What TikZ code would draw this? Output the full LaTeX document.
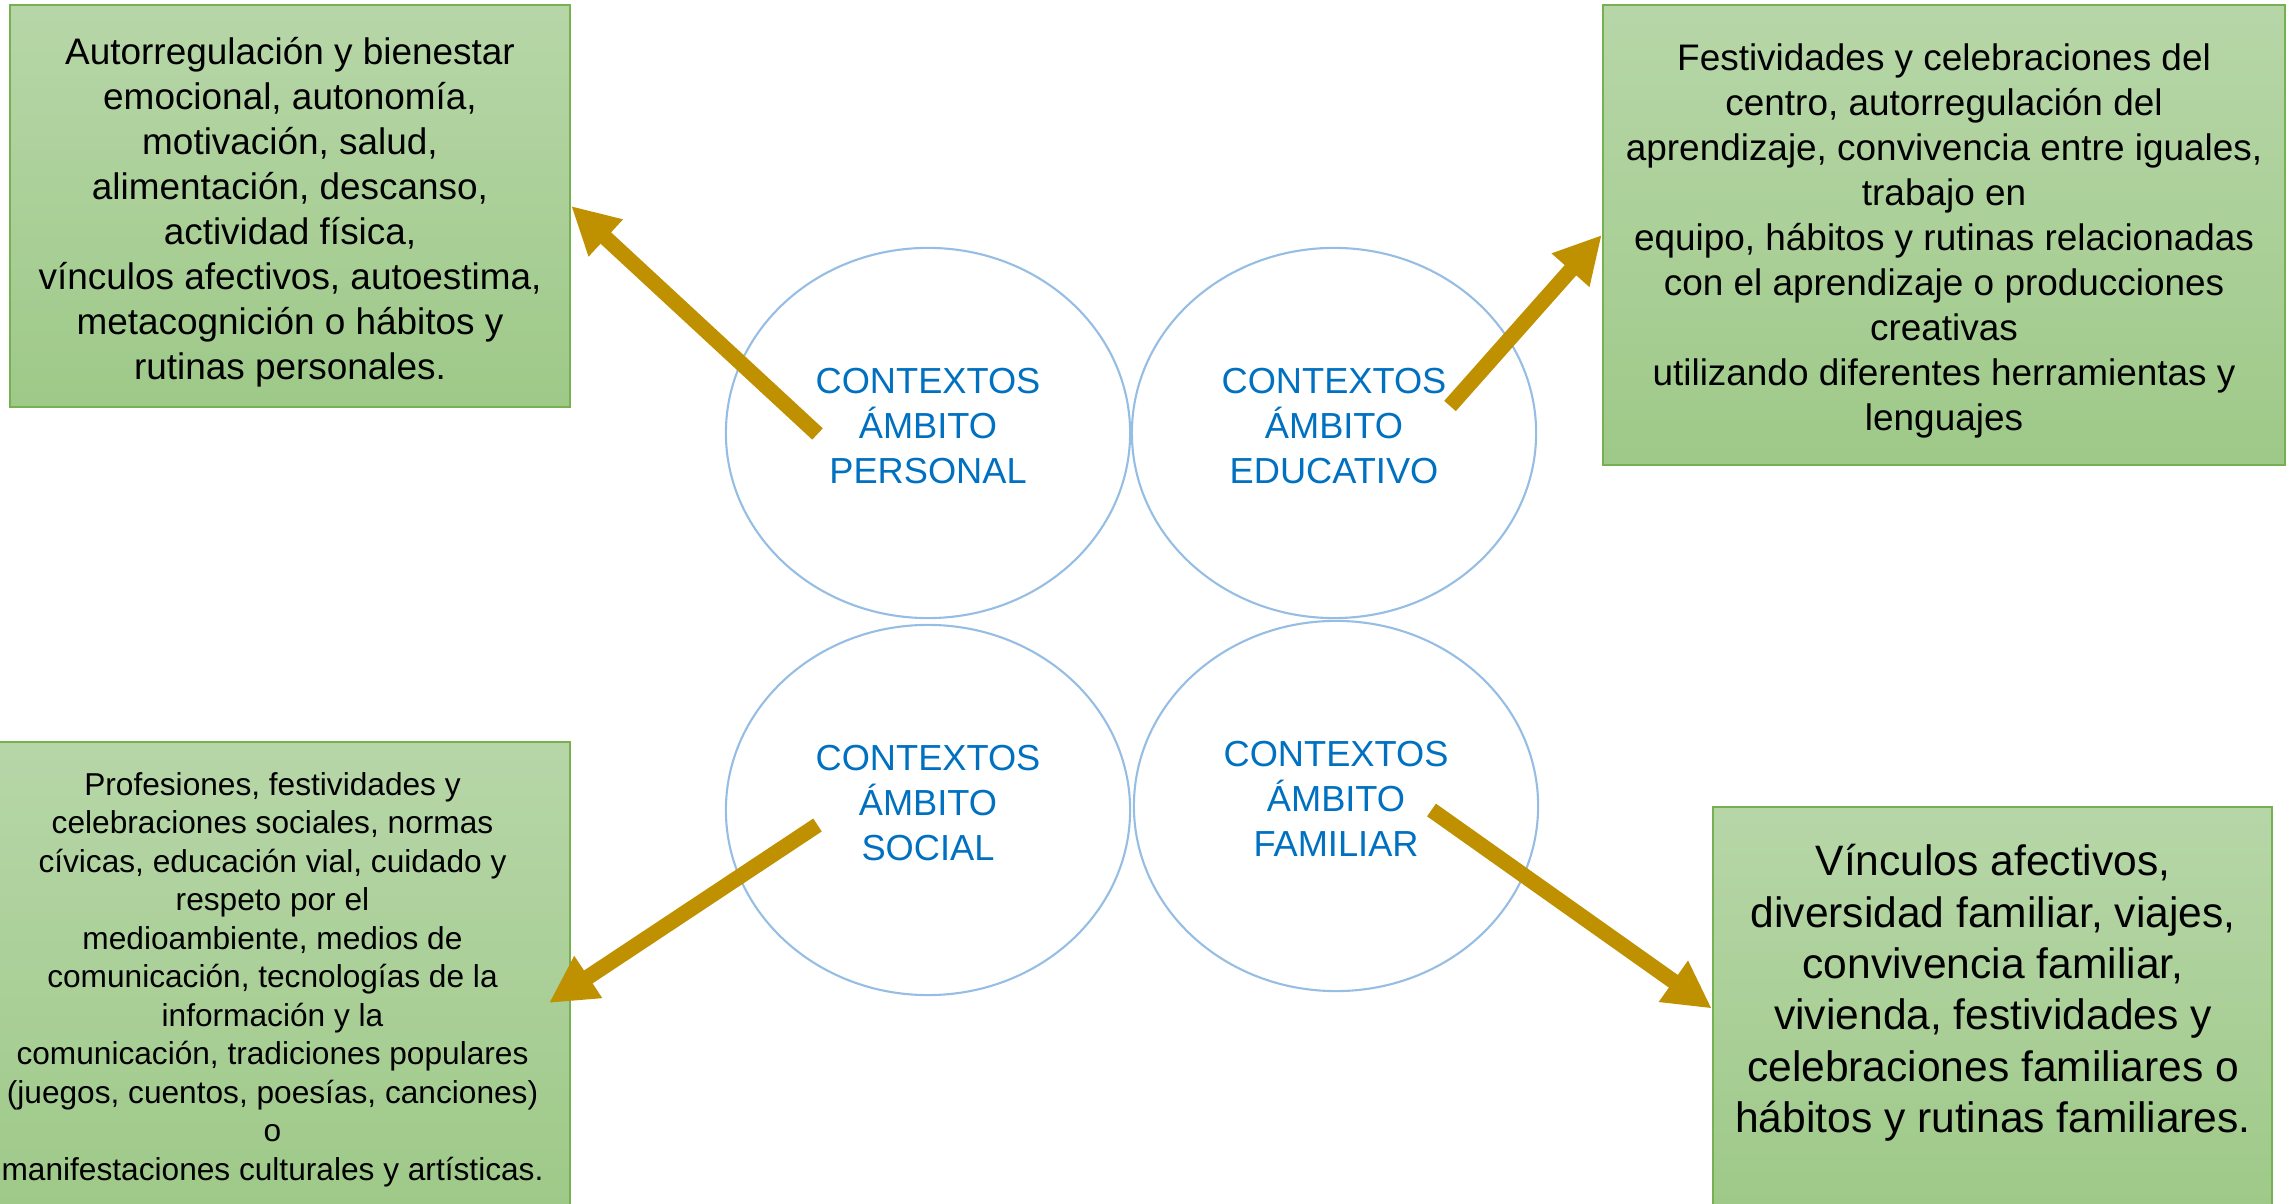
\documentclass[tikz,border=0pt]{standalone}
\usepackage{fontspec}
\setmainfont{Liberation Sans}
\usepackage{xcolor}
\usepackage{tikz}
\usetikzlibrary{shapes,arrows.meta,positioning}

\definecolor{boxtop}{RGB}{183,214,168}
\definecolor{boxbot}{RGB}{158,201,136}
\definecolor{boxline}{RGB}{118,176,80}
\definecolor{ringblue}{RGB}{150,190,228}
\definecolor{ctxblue}{RGB}{0,112,192}
\definecolor{arrowgold}{RGB}{191,144,0}

\begin{document}
\begin{tikzpicture}[x=0.01cm, y=-0.01cm,
    infobox/.style={rectangle, draw=boxline, line width=0.6pt, top color=boxtop, bottom color=boxbot, inner sep=0pt},
    boxtext/.style={align=center, inner sep=0pt},
    ctx/.style={ellipse, draw=ringblue, line width=0.6pt, inner sep=0pt, minimum width=4.04cm, minimum height=3.70cm},
    ctxtext/.style={align=center, text=ctxblue, font=\fontsize{10.3}{12.8}\selectfont},
    arr/.style={draw=arrowgold, line width=4.4pt, -{Triangle[length=13.4pt,width=13.4pt]}}]
    \useasboundingbox (0,0) rectangle (2295,1204);

    % Context circles
    \node[ctx] (per) at (928,433) {};
    \node[ctx] (edu) at (1334,433) {};
    \node[ctx] (soc) at (928,810) {};
    \node[ctx] (fam) at (1336,806) {};
    \node[ctxtext] (pertxt) at ([yshift=0.07cm]per) {CONTEXTOS\\ÁMBITO\\PERSONAL};
    \node[ctxtext] (edutxt) at ([yshift=0.07cm]edu) {CONTEXTOS\\ÁMBITO\\EDUCATIVO};
    \node[ctxtext] (soctxt) at ([yshift=0.07cm]soc) {CONTEXTOS\\ÁMBITO\\SOCIAL};
    \node[ctxtext] (famtxt) at ([yshift=0.07cm]fam) {CONTEXTOS\\ÁMBITO\\FAMILIAR};

    % Content boxes
    \node[infobox, minimum width=5.60cm, minimum height=4.02cm] (perbox) at (290,206) {};
    \node[infobox, minimum width=6.82cm, minimum height=4.60cm] (edubox) at (1944,235) {};
    \node[infobox, minimum width=5.95cm, minimum height=4.72cm] (socbox) at (272.5,978) {};
    \node[infobox, minimum width=5.59cm, minimum height=4.03cm] (fambox) at (1992.5,1008.5) {};

    % Box texts
    \node[boxtext, font=\fontsize{10.5}{12.8}\selectfont] (perbody) at (290,212)
        {Autorregulación y bienestar\\emocional, autonomía,\\motivación, salud,\\alimentación, descanso,\\actividad física,\\vínculos afectivos, autoestima,\\metacognición o hábitos y\\rutinas personales.};
    \node[boxtext, font=\fontsize{10.5}{12.8}\selectfont] (edubody) at (1944,241)
        {Festividades y celebraciones del\\centro, autorregulación del\\aprendizaje, convivencia entre iguales,\\trabajo en\\equipo, hábitos y rutinas relacionadas\\con el aprendizaje o producciones\\creativas\\utilizando diferentes herramientas y\\lenguajes};
    \node[boxtext, font=\fontsize{9.0}{10.95}\selectfont] (socbody) at (272.5,979.5)
        {Profesiones, festividades y\\celebraciones sociales, normas\\cívicas, educación vial, cuidado y\\respeto por el\\medioambiente, medios de\\comunicación, tecnologías de la\\información y la\\comunicación, tradiciones populares\\(juegos, cuentos, poesías, canciones)\\o\\manifestaciones culturales y artísticas.};
    \node[boxtext, font=\fontsize{12.1}{14.6}\selectfont] (fambody) at (1993,993)
        {Vínculos afectivos,\\diversidad familiar, viajes,\\convivencia familiar,\\vivienda, festividades y\\celebraciones familiares o\\hábitos y rutinas familiares.};

    % Arrows
    \coordinate (pertail) at (817.5,434);
    \coordinate (edutail) at (1450,406);
    \coordinate (soctail) at (817.5,825);
    \coordinate (soctip) at (549,1003);
    \coordinate (famtail) at (1431.5,810);
    \draw[arr] (pertail) -- (perbox.east);
    \draw[arr] (edutail) -- (edubox.west);
    \draw[arr] (soctail) -- (soctip);
    \draw[arr] (famtail) -- (fambox.west);
\end{tikzpicture}
\end{document}
